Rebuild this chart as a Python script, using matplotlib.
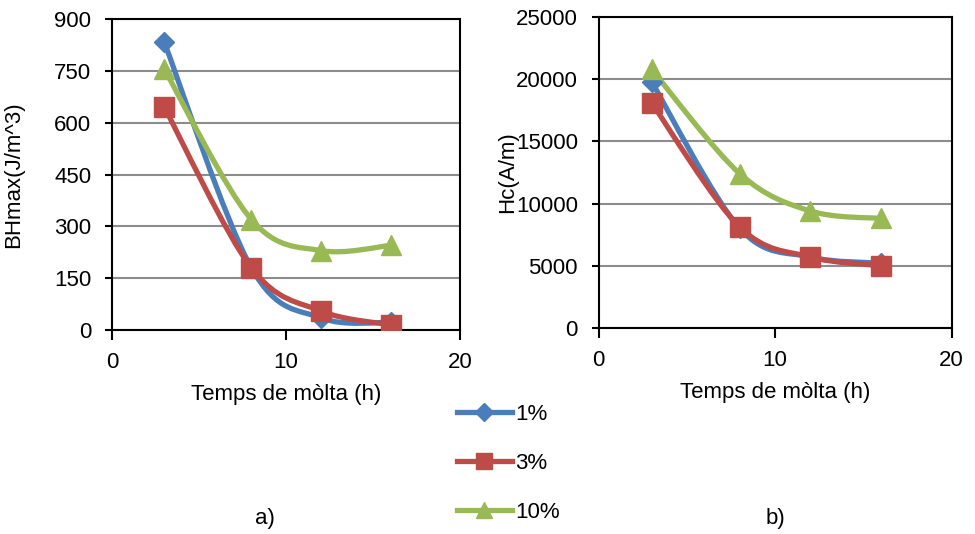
import matplotlib.pyplot as plt
from matplotlib.path import Path
from matplotlib.patches import PathPatch
from matplotlib.lines import Line2D

plt.rcParams['font.family'] = ['Liberation Sans', 'DejaVu Sans']

# data
hours = [3, 8, 12, 16]
series = ['1%', '3%', '10%']
bhmax_1 = [833, 180, 35, 22]
bhmax_3 = [645, 180, 55, 15]
bhmax_10 = [755, 320, 230, 245]
hc_1 = [19800, 8000, 5700, 5200]
hc_3 = [18100, 8100, 5700, 5000]
hc_10 = [20800, 12400, 9400, 8800]

colors = ['#4A7EBB', '#BE4B48', '#98B954']
markers = ['D', 's', '^']
msizes = [10, 14, 14]
FS = 16


def smooth_path(xs, ys):
    # Excel-like smoothed line as cubic bezier segments
    pts = list(zip(xs, ys))
    verts = [pts[0]]
    codes = [Path.MOVETO]
    n = len(pts)
    for i in range(n - 1):
        p0 = pts[i - 1] if i > 0 else pts[i]
        p1 = pts[i]
        p2 = pts[i + 1]
        p3 = pts[i + 2] if i + 2 < n else pts[i + 1]
        c1 = (p1[0] + (p2[0] - p0[0]) / 6, p1[1] + (p2[1] - p0[1]) / 6)
        c2 = (p2[0] - (p3[0] - p1[0]) / 6, p2[1] - (p3[1] - p1[1]) / 6)
        verts += [c1, c2, p2]
        codes += [Path.CURVE4] * 3
    return Path(verts, codes)


def panel(ax, data, ymax, ystep, ylabel, labx):
    for vals, c, m, ms in zip(data, colors, markers, msizes):
        ax.add_patch(PathPatch(smooth_path(hours, vals), fill=False,
                               edgecolor=c, lw=3.8, zorder=3,
                               capstyle='round', joinstyle='round'))
        ax.plot(hours, vals, ls='none', marker=m, ms=ms, color=c, zorder=4)
    ax.set_xlim(0, 20)
    ax.set_ylim(0, ymax)
    ax.set_xticks([0, 10, 20])
    ax.set_yticks(range(0, ymax + 1, ystep))
    ax.yaxis.grid(True, color='#8C8C8C', lw=1.5)
    ax.set_axisbelow(True)
    for s in ax.spines.values():
        s.set_color('black')
        s.set_linewidth(1.5)
    ax.tick_params(axis='y', labelsize=FS, width=1.5, length=5, pad=10)
    ax.tick_params(axis='x', labelsize=FS, width=1.5, length=7, pad=9)
    ax.set_xlabel('Temps de mòlta (h)', fontsize=FS, labelpad=8)
    ax.set_ylabel(ylabel, fontsize=FS)
    ax.yaxis.set_label_coords(labx, 0.5)


fig = plt.figure(figsize=(9.75, 5.34), dpi=100)
ax1 = fig.add_axes([0.115, 0.382, 0.357, 0.582])
ax2 = fig.add_axes([0.614, 0.386, 0.362, 0.582])

panel(ax1, [bhmax_1, bhmax_3, bhmax_10], 900, 150, 'BHmax(J/m^3)', -0.252)
panel(ax2, [hc_1, hc_3, hc_10], 25000, 5000, 'Hc(A/m)', -0.228)

handles = [Line2D([], [], color=c, lw=3.8, marker=m, ms=ms)
           for c, m, ms in zip(colors, markers, [9, 11, 11])]
fig.legend(handles, series, loc='upper left', bbox_to_anchor=(0.469, 0.244),
           frameon=False, fontsize=FS, handlelength=2.45, handletextpad=0.15,
           labelspacing=1.27, borderpad=0, borderaxespad=0)

fig.text(0.272, 0.018, 'a)', fontsize=FS, ha='center')
fig.text(0.795, 0.018, 'b)', fontsize=FS, ha='center')

fig.savefig('out.png', dpi=100)
